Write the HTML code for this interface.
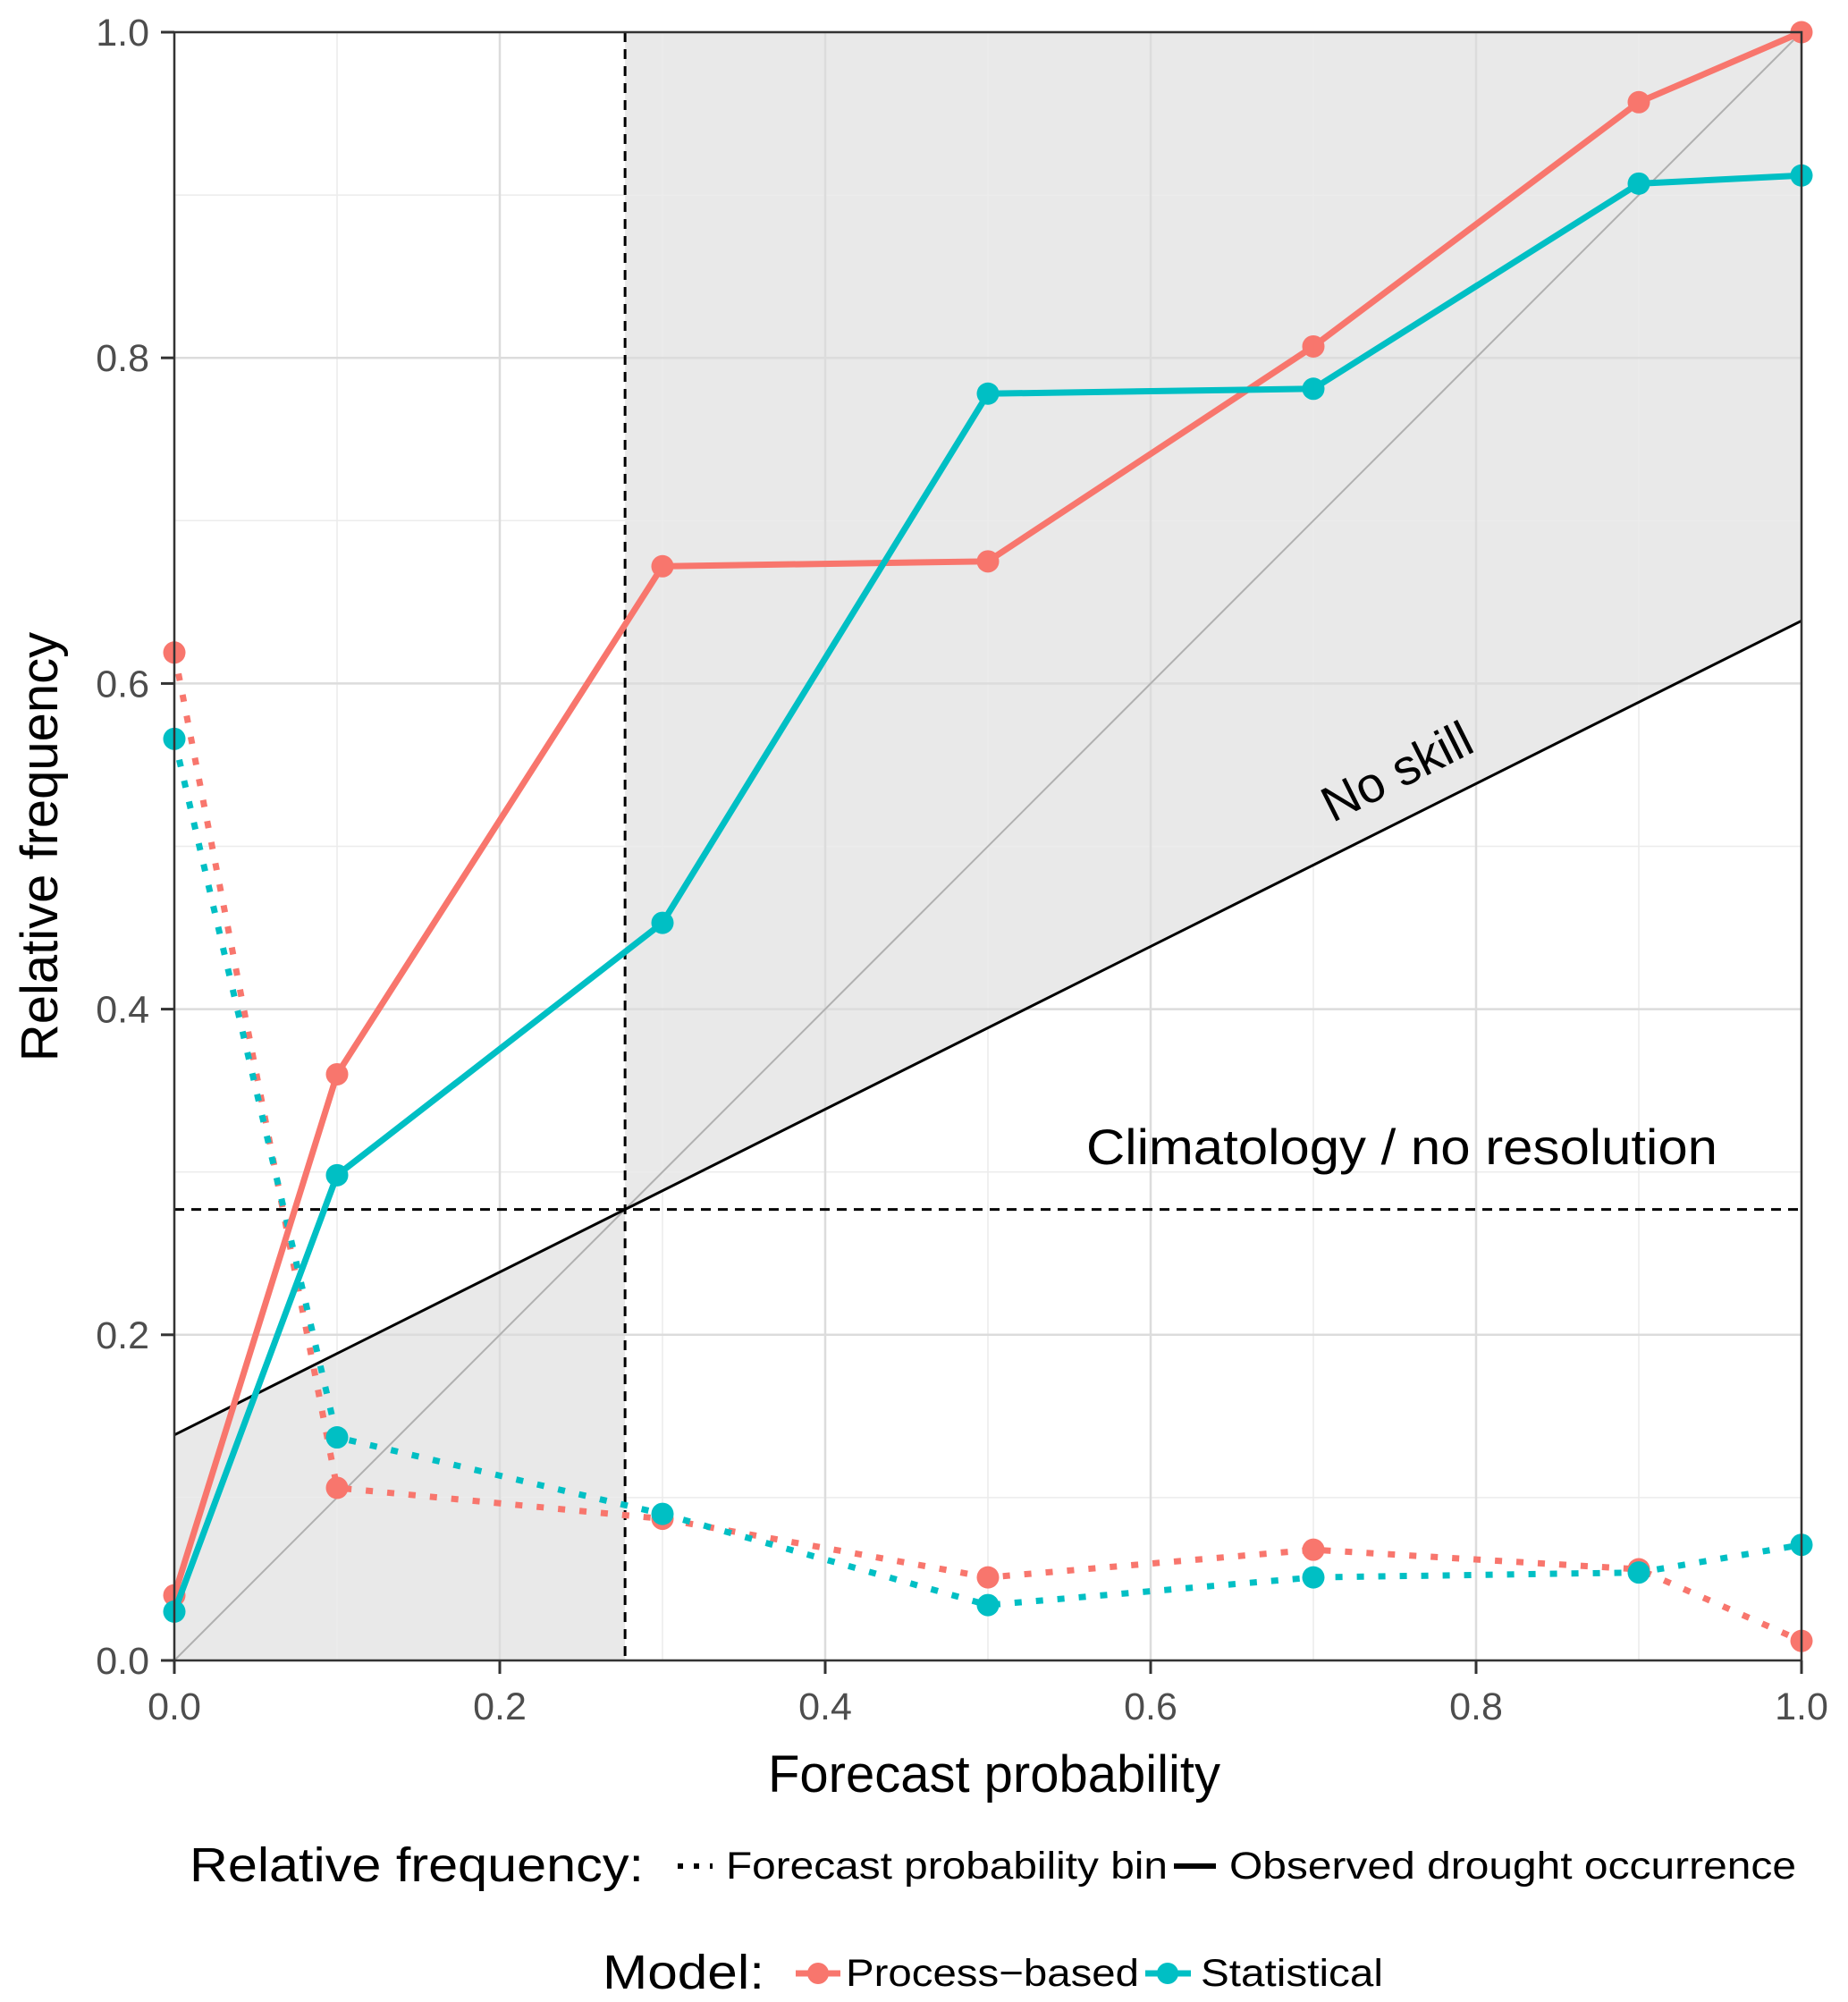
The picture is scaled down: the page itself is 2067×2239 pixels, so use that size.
<!DOCTYPE html>
<html><head><meta charset="utf-8"><style>
body{margin:0;background:#fff}
svg{display:block;font-family:"Liberation Sans",sans-serif}
</style></head><body>
<svg id="c" width="2067" height="2239" viewBox="0 0 2067 2239"></svg>
<script>
const bins=[0,0.1,0.3,0.5,0.7,0.9,1.0];
const procObs=[0.04,0.36,0.672,0.675,0.807,0.957,1.0];
const statObs=[0.03,0.298,0.453,0.778,0.781,0.907,0.912];
const procBin=[0.619,0.106,0.087,0.051,0.068,0.056,0.012];
const statBin=[0.566,0.137,0.090,0.034,0.051,0.054,0.071];
const climatology=0.277;
const tickLabels=["0.0","0.2","0.4","0.6","0.8","1.0"];
const tickVals=[0,0.2,0.4,0.6,0.8,1.0];
const minorVals=[0.1,0.3,0.5,0.7,0.9];

const L=195,R=2015,T=36,B=1857;
const X=v=>L+(R-L)*v, Y=v=>B-(B-T)*v;
const svg=document.getElementById('c');
const NS="http://www.w3.org/2000/svg";
function mk(tag,attrs,parent){const e=document.createElementNS(NS,tag);for(const k in attrs)e.setAttribute(k,attrs[k]);(parent||svg).appendChild(e);return e;}

const ns0=climatology/2, ns1=climatology/2+0.5;
const nsY=x=>ns0+(ns1-ns0)*x;
const sh1=mk('polygon',{points:`${X(0)},${Y(0)} ${X(0)},${Y(nsY(0))} ${X(climatology)},${Y(nsY(climatology))} ${X(climatology)},${Y(0)}`,fill:'#e9e9e9'});


const sh2=mk('polygon',{points:`${X(climatology)},${Y(1)} ${X(climatology)},${Y(nsY(climatology))} ${X(1)},${Y(nsY(1))} ${X(1)},${Y(1)}`,fill:'#e9e9e9'});



const grid=mk('g',{stroke:'#ebebeb'});


minorVals.forEach(v=>{mk('line',{x1:X(v),x2:X(v),y1:T,y2:B,'stroke-width':1.5,stroke:'#ececec'},grid);mk('line',{x1:L,x2:R,y1:Y(v),y2:Y(v),'stroke-width':1.5,stroke:'#ececec'},grid);});
tickVals.forEach(v=>{mk('line',{x1:X(v),x2:X(v),y1:T,y2:B,'stroke-width':2.5,stroke:'#dcdcdc'},grid);mk('line',{x1:L,x2:R,y1:Y(v),y2:Y(v),'stroke-width':2.5,stroke:'#dcdcdc'},grid);});

const dg=mk('line',{x1:X(0),y1:Y(0),x2:X(1),y2:Y(1),stroke:'#b0b0b0','stroke-width':2});


const nsl=mk('line',{x1:X(0),y1:Y(nsY(0)),x2:X(1),y2:Y(nsY(1)),stroke:'#000','stroke-width':3});


const hl=mk('line',{x1:L,x2:R,y1:Y(climatology),y2:Y(climatology),stroke:'#000','stroke-width':3,'stroke-dasharray':'11 8'});


const vl=mk('line',{x1:X(climatology),x2:X(climatology),y1:T,y2:B,stroke:'#000','stroke-width':3,'stroke-dasharray':'11 8'});



function series(vals,color,dotted,name){
  const pts=bins.map((b,i)=>X(b)+','+Y(vals[i])).join(' ');
  const pl=mk('polyline',{points:pts,fill:'none',stroke:color,'stroke-width':7,'stroke-dasharray':dotted?'8 16':'none'});
  
  
  bins.forEach((b,i)=>{const c=mk('circle',{cx:X(b),cy:Y(vals[i]),r:12.5,fill:color});
    
    });
}
series(procBin,'#f8766d',true,'process-based-bin');
series(statBin,'#00bfc4',true,'statistical-bin');
series(procObs,'#f8766d',false,'process-based-observed');
series(statObs,'#00bfc4',false,'statistical-observed');

const bd=mk('rect',{x:L,y:T,width:R-L,height:B-T,fill:'none',stroke:'#333','stroke-width':2.5});



tickVals.forEach((v,i)=>{
  mk('line',{x1:L-15,x2:L,y1:Y(v),y2:Y(v),stroke:'#333','stroke-width':3});
  mk('line',{x1:X(v),x2:X(v),y1:B,y2:B+15,stroke:'#333','stroke-width':3});
  const yl=mk('text',{x:L-28,y:Y(v)+15,'text-anchor':'end','font-size':43,fill:'#4d4d4d'});yl.textContent=tickLabels[i];
  
  
  const xl=mk('text',{x:X(v),y:B+66,'text-anchor':'middle','font-size':43,fill:'#4d4d4d'});xl.textContent=tickLabels[i];
  
  
});
</script>
<script>
const s=document.getElementById('c');
s.insertAdjacentHTML('beforeend',`
<text x="1112" y="2004" text-anchor="middle" font-size="58">Forecast probability</text>
<text transform="translate(64,947) rotate(-90)" text-anchor="middle" font-size="58">Relative frequency</text>
<text transform="translate(1571,880) rotate(-26.6)" text-anchor="middle" font-size="56">No skill</text>
<text x="1568" y="1302" text-anchor="middle" font-size="56" textLength="706" lengthAdjust="spacingAndGlyphs">Climatology / no resolution</text>
<text x="212" y="2104" font-size="54" textLength="508" lengthAdjust="spacingAndGlyphs">Relative frequency:</text>
<line x1="758" x2="797" y1="2087" y2="2087" stroke="#000" stroke-width="6" stroke-dasharray="6 12"/>
<text x="812" y="2101" font-size="43" textLength="494" lengthAdjust="spacingAndGlyphs">Forecast probability bin</text>
<line x1="1313" x2="1360" y1="2087" y2="2087" stroke="#000" stroke-width="6"/>
<text x="1375" y="2101" font-size="43" textLength="634" lengthAdjust="spacingAndGlyphs">Observed drought occurrence</text>
<text x="674" y="2224" font-size="54" textLength="181" lengthAdjust="spacingAndGlyphs">Model:</text>
<line x1="890" x2="940" y1="2207" y2="2207" stroke="#f8766d" stroke-width="7"/>
<circle cx="915" cy="2207" r="12" fill="#f8766d"/>
<text x="946" y="2221" font-size="43" textLength="328" lengthAdjust="spacingAndGlyphs">Process−based</text>
<line x1="1281" x2="1332" y1="2207" y2="2207" stroke="#00bfc4" stroke-width="7"/>
<circle cx="1306" cy="2207" r="12" fill="#00bfc4"/>
<text x="1343" y="2221" font-size="43" textLength="204" lengthAdjust="spacingAndGlyphs">Statistical</text>
`);
</script>
</body></html>
